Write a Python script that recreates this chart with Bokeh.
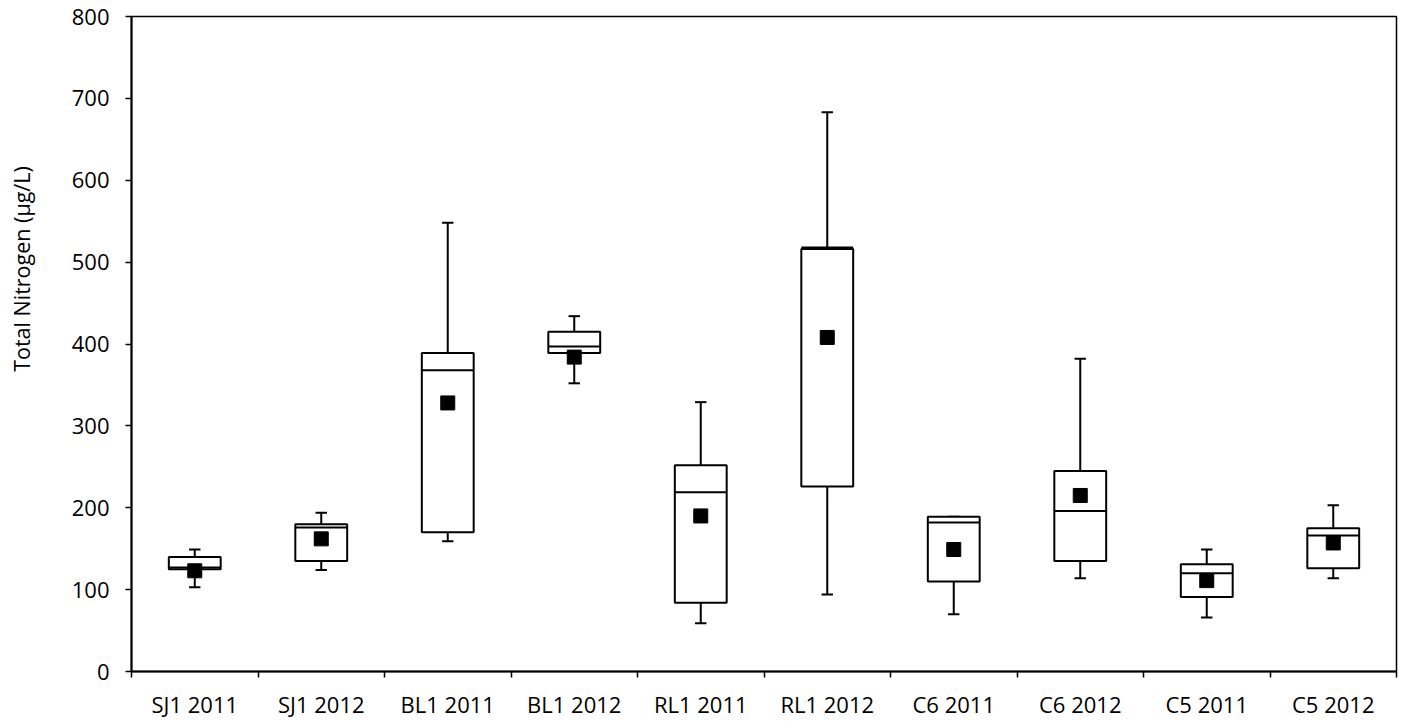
import numpy as np
from bokeh.plotting import figure
from bokeh.models import Range1d, FixedTicker
from bokeh.layouts import row
from bokeh.core.properties import value
from bokeh.embed import file_html
from bokeh.resources import INLINE

categories = ["SJ1 2011", "SJ1 2012", "BL1 2011", "BL1 2012", "RL1 2011",
              "RL1 2012", "C6 2011", "C6 2012", "C5 2011", "C5 2012"]
whisker_low = [103, 124, 159, 352, 59, 94, 70, 114, 66, 114]
q1 = [125, 135, 170, 389, 84, 226, 110, 135, 91, 126]
median = [127, 176, 368, 397, 219, 518, 182, 196, 120, 166]
q3 = [140, 180, 389, 415, 252, 516, 189, 245, 131, 175]
whisker_high = [149, 194, 548, 434, 329, 683, 189, 382, 149, 203]
mean = [123, 162, 328, 384, 190, 408, 149, 215, 111, 157]

y_ticks = [0, 100, 200, 300, 400, 500, 600, 700, 800]
y_title = "Total Nitrogen (µg/L)"

FONT = "Open Sans"
TITLE_W = 40
TOTAL_H = 720

x = np.arange(len(categories)) + 0.5
box_w = 0.41
cap_w = 0.09

# narrow strip holding the rotated y-axis title
ft = figure(width=TITLE_W, height=TOTAL_H, output_backend="svg", toolbar_location=None,
            x_range=Range1d(0, TITLE_W), y_range=Range1d(TOTAL_H, 0),
            x_axis_type=None, y_axis_type=None, min_border=0)
ft.outline_line_color = None
ft.background_fill_color = "white"
ft.border_fill_color = "white"
ft.xgrid.visible = False
ft.ygrid.visible = False
ft.text(x=[21], y=[278], text=[y_title], angle=np.pi / 2, text_align="center",
        text_baseline="middle", text_font=value(FONT), text_font_size="21.5px", text_color="black")

p = figure(frame_width=1265, frame_height=655, output_backend="svg", toolbar_location=None,
           x_range=Range1d(0, len(categories)), y_range=Range1d(0, 800),
           min_border_left=131 - TITLE_W, min_border_right=10, min_border_top=16,
           min_border_bottom=TOTAL_H - 16 - 655)
p.background_fill_color = "white"
p.border_fill_color = "white"
p.outline_line_color = "black"
p.outline_line_width = 1.5
p.xgrid.visible = False
p.ygrid.visible = False

# whiskers
p.segment(x0=x, y0=q3, x1=x, y1=whisker_high, line_color="black", line_width=2)
p.segment(x0=x, y0=q1, x1=x, y1=whisker_low, line_color="black", line_width=2)
p.segment(x0=x - cap_w / 2, y0=whisker_high, x1=x + cap_w / 2, y1=whisker_high, line_color="black", line_width=2)
p.segment(x0=x - cap_w / 2, y0=whisker_low, x1=x + cap_w / 2, y1=whisker_low, line_color="black", line_width=2)
# boxes
p.vbar(x=x, width=box_w, bottom=q1, top=q3, fill_color="white", line_color="black", line_width=2)
# medians
p.segment(x0=x - box_w / 2, y0=median, x1=x + box_w / 2, y1=median, line_color="black", line_width=2)
# means
p.scatter(x=x, y=mean, marker="square", size=14, fill_color="black", line_color="black")

# x axis: labels at centres, ticks at boundaries
p.xaxis.ticker = FixedTicker(ticks=list(x), minor_ticks=list(range(len(categories) + 1)))
p.xaxis.major_label_overrides = {float(v): c for v, c in zip(x, categories)}
p.xaxis.major_tick_line_color = None
p.xaxis.minor_tick_line_color = "black"
p.xaxis.minor_tick_line_width = 1.5
p.xaxis.minor_tick_out = 6
p.xaxis.minor_tick_in = 0
p.xaxis.axis_line_width = 2
p.xaxis.axis_line_color = "black"
p.xaxis.major_label_text_font = FONT
p.xaxis.major_label_text_font_size = "22px"
p.xaxis.major_label_text_color = "black"
p.xaxis.major_label_standoff = 11

# y axis
p.yaxis.ticker = FixedTicker(ticks=y_ticks)
p.yaxis.major_tick_out = 6
p.yaxis.major_tick_in = 0
p.yaxis.major_tick_line_width = 1.5
p.yaxis.minor_tick_line_color = None
p.yaxis.axis_line_width = 2
p.yaxis.axis_line_color = "black"
p.yaxis.major_label_text_font = FONT
p.yaxis.major_label_text_font_size = "22px"
p.yaxis.major_label_text_color = "black"
p.yaxis.major_label_standoff = 16

layout = row(ft, p, spacing=0)

open("out.html", "w").write(file_html(layout, INLINE))
